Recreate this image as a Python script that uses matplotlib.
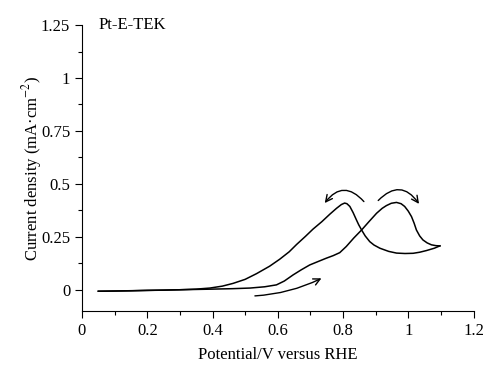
import numpy as np
import matplotlib.pyplot as plt
from matplotlib.ticker import MultipleLocator, FuncFormatter

# anodic (forward) scan
fwd_v = [0.05, 0.1, 0.2, 0.3, 0.4, 0.46, 0.515, 0.56, 0.596, 0.62, 0.647, 0.672, 0.698, 0.725,
         0.749, 0.77, 0.79, 0.81, 0.833, 0.857, 0.88, 0.903, 0.92, 0.933, 0.948, 0.964, 0.978,
         0.989, 1.0, 1.01, 1.018, 1.025, 1.035, 1.045, 1.058, 1.071, 1.085, 1.097]
fwd_j = [-0.006, -0.005, -0.002, 0.001, 0.004, 0.006, 0.009, 0.015, 0.024, 0.042, 0.071, 0.095,
         0.118, 0.135, 0.15, 0.162, 0.176, 0.205, 0.245, 0.283, 0.323, 0.362, 0.385, 0.398, 0.409,
         0.413, 0.407, 0.394, 0.372, 0.346, 0.315, 0.283, 0.255, 0.236, 0.222, 0.213, 0.209, 0.208]

# cathodic (backward) scan
bwd_v = [1.097, 1.08, 1.056, 1.035, 1.015, 0.99, 0.964, 0.94, 0.913, 0.895, 0.882, 0.868,
         0.857, 0.848, 0.841, 0.831, 0.821, 0.812, 0.805, 0.795, 0.78, 0.76, 0.735, 0.708,
         0.685, 0.658, 0.635, 0.606, 0.575, 0.535, 0.5, 0.463, 0.43, 0.392, 0.35, 0.3, 0.25,
         0.2, 0.15, 0.1, 0.05]
bwd_j = [0.208, 0.197, 0.186, 0.178, 0.173, 0.172, 0.174, 0.182, 0.197, 0.212, 0.228, 0.255,
         0.283, 0.308, 0.331, 0.365, 0.394, 0.407, 0.41, 0.403, 0.385, 0.358, 0.322, 0.287,
         0.253, 0.215, 0.18, 0.145, 0.112, 0.077, 0.05, 0.031, 0.018, 0.009, 0.004, 0.001,
         -0.001, -0.002, -0.004, -0.005, -0.006]

plt.rcParams['font.family'] = ['Liberation Serif', 'DejaVu Serif']
plt.rcParams['mathtext.fontset'] = 'stix'
plt.rcParams['font.size'] = 12

fig = plt.figure(figsize=(5, 3.79), dpi=100)
ax = fig.add_axes([0.164, 0.179, 0.783, 0.755])

ax.plot(fwd_v, fwd_j, color='black', lw=1.1)
ax.plot(bwd_v, bwd_j, color='black', lw=1.1)

arrow = dict(arrowstyle='->', color='black', lw=1.0, shrinkA=0, shrinkB=0)
ax.annotate('', xy=(0.734, 0.055), xytext=(0.53, -0.028),
            arrowprops=dict(arrow, connectionstyle='arc3,rad=0.1'))
ax.annotate('', xy=(0.744, 0.41), xytext=(0.864, 0.417),
            arrowprops=dict(arrow, connectionstyle='arc3,rad=0.6'))
ax.annotate('', xy=(1.033, 0.406), xytext=(0.908, 0.422),
            arrowprops=dict(arrow, connectionstyle='arc3,rad=-0.6'))

ax.text(0.05, 1.25, 'Pt-E-TEK', ha='left', va='center')

ax.set_xlim(0, 1.2)
ax.set_ylim(-0.1, 1.25)
ax.spines['top'].set_visible(False)
ax.spines['right'].set_visible(False)
ax.xaxis.set_major_locator(MultipleLocator(0.2))
ax.xaxis.set_minor_locator(MultipleLocator(0.1))
ax.yaxis.set_major_locator(MultipleLocator(0.25))
ax.yaxis.set_minor_locator(MultipleLocator(0.125))
fmt = FuncFormatter(lambda v, p: ('%g' % round(v, 3)))
ax.xaxis.set_major_formatter(fmt)
ax.yaxis.set_major_formatter(fmt)
ax.tick_params(which='major', direction='out', length=5, width=0.8)
ax.tick_params(which='minor', direction='out', length=3, width=0.8)

ax.set_xlabel('Potential/V versus RHE', labelpad=6)
ax.set_ylabel('Current density (mA\u00b7cm$^{-2}$)', labelpad=-2)

fig.savefig('out.png', dpi=100)
